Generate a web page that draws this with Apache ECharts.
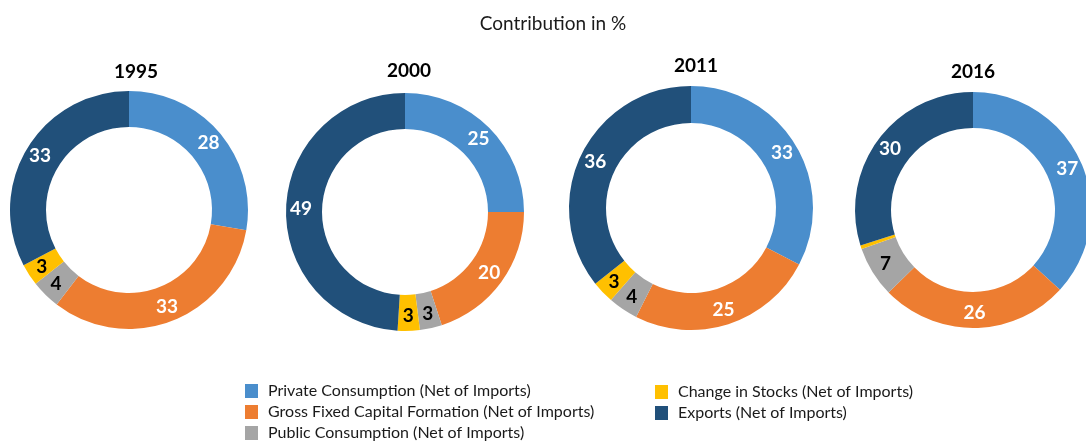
<!DOCTYPE html>
<html>
<head>
<meta charset="utf-8">
<script src="https://cdn.jsdelivr.net/npm/echarts@6/dist/echarts.min.js"></script>
<style>
html,body{margin:0;padding:0;background:#fff;}
#main{width:1086px;height:443px;}
</style>
</head>
<body>
<div id="main"></div>
<script>
const categories = [
  'Private Consumption (Net of Imports)',
  'Gross Fixed Capital Formation (Net of Imports)',
  'Public Consumption (Net of Imports)',
  'Change in Stocks (Net of Imports)',
  'Exports (Net of Imports)'
];
const years = ['1995', '2000', '2011', '2016'];
const values1995 = [28, 33, 4, 3, 33];
const values2000 = [25, 20, 3, 3, 49];
const values2011 = [33, 25, 4, 3, 36];
const values2016 = [37, 26, 7, 0.5, 30];
const chartTitle = 'Contribution in %';

const allValues = [values1995, values2000, values2011, values2016];
const colors = ['#4A8ECC', '#ED7D31', '#A5A5A5', '#FFC000', '#21507A'];
const centers = [[129, 210], [405, 212], [691, 208], [973, 210]];
const radii = [[83, 119], [83, 119], [85, 122], [82, 118]];
const titleX = [131, 404, 691, 968];
const titleY = [57, 56, 51, 57];
const FONT = 'Lato, "Open Sans", sans-serif';

const series = allValues.map((vals, i) => ({
  type: 'pie',
  name: years[i],
  center: centers[i],
  radius: radii[i],
  startAngle: 90,
  clockwise: true,
  avoidLabelOverlap: false,
  silent: true,
  label: { show: true, position: 'inside', fontFamily: FONT, fontWeight: 'bold', fontSize: 19 },
  labelLine: { show: false },
  data: vals.map((v, j) => ({
    name: categories[j],
    value: v,
    itemStyle: { color: colors[j] },
    label: {
      show: v >= 1,
      formatter: String(v),
      color: v < 10 ? '#000' : '#fff'
    }
  }))
}));

const titles = [{
  text: chartTitle,
  left: 548, top: 9, textAlign: 'center',
  textStyle: { fontFamily: FONT, fontWeight: 'normal', fontSize: 19, color: '#1a1a1a' }
}].concat(years.map((y, i) => ({
  text: y,
  left: titleX[i], top: titleY[i], textAlign: 'center',
  textStyle: { fontFamily: FONT, fontWeight: 'bold', fontSize: 19, color: '#000' }
})));

const legendCommon = {
  orient: 'vertical',
  icon: 'rect',
  itemWidth: 13,
  itemHeight: 14,
  itemGap: 5,
  padding: 0,
  height: 80,
  selectedMode: false,
  textStyle: { fontFamily: FONT, fontSize: 16, color: '#1a1a1a', padding: [0, 0, 0, 5] }
};

const option = {
  animation: false,
  backgroundColor: '#fff',
  title: titles,
  legend: [
    Object.assign({}, legendCommon, { left: 245, top: 383, data: categories.slice(0, 3) }),
    Object.assign({}, legendCommon, { left: 655, top: 384, data: categories.slice(3) })
  ],
  series: series
};

const chart = echarts.init(document.getElementById('main'), null, { renderer: 'canvas' });
chart.setOption(option);
</script>
</body>
</html>
